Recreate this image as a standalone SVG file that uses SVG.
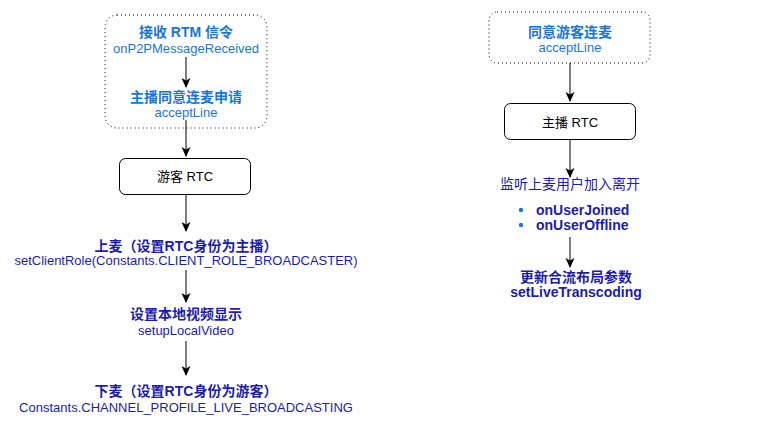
<svg xmlns="http://www.w3.org/2000/svg" width="779" height="438" viewBox="0 0 779 438">
<defs>
<marker id="ah" markerWidth="10" markerHeight="10" refX="9" refY="5" orient="auto" markerUnits="userSpaceOnUse">
<path d="M0,0.5 L10,5 L0,9.5 L2.5,5 Z" fill="#000"/>
</marker>
<style>
text{font-family:"Liberation Sans","Noto Sans CJK SC",sans-serif;text-anchor:middle}
.lb{fill:#1A75D8}
.db{fill:#1C1CAA}
.b{font-weight:bold;font-size:14px}
.r{font-size:13px}
.blk{fill:#000;font-size:13px}
.dot{fill:#fff;stroke:#000;stroke-width:1;stroke-dasharray:1 3}
.box{fill:#fff;stroke:#000;stroke-width:1}
.c{fill:none;stroke:#000;stroke-width:1;marker-end:url(#ah)}
</style>
</defs>
<rect width="779" height="438" fill="#fff"/>
<g id="left-group">
<rect class="dot" x="105" y="15" width="162" height="113" rx="12"/>
</g>
<g id="right-group">
<rect class="dot" x="489" y="12" width="161" height="51" rx="8"/>
</g>
<g id="connectors">
<path class="c" d="M186,57 V87"/>
<path class="c" d="M186,120 V156"/>
<path class="c" d="M186,195 V231"/>
<path class="c" d="M186,270 V302"/>
<path class="c" d="M186,341 V375"/>
<path class="c" d="M570,63 V101"/>
<path class="c" d="M570,140 V177"/>
<path class="c" d="M570,237 V267"/>
</g>
<g id="n-rtm">
<text class="lb b" x="186" y="37">接收 RTM 信令</text>
<text class="lb r" x="186" y="53">onP2PMessageReceived</text>
</g>
<g id="n-agree">
<text class="lb b" x="186" y="102">主播同意连麦申请</text>
<text class="lb r" x="186" y="117">acceptLine</text>
</g>
<g id="n-guest-rtc">
<rect class="box" x="119.5" y="158.5" width="131" height="36" rx="6"/>
<text class="blk" x="185" y="181">游客 RTC</text>
</g>
<g id="n-up">
<text class="db b" x="186" y="251">上麦（设置RTC身份为主播）</text>
<text class="db r" x="186" y="265">setClientRole(Constants.CLIENT_ROLE_BROADCASTER)</text>
</g>
<g id="n-local">
<text class="db b" x="186" y="319">设置本地视频显示</text>
<text class="db r" x="186" y="335">setupLocalVideo</text>
</g>
<g id="n-down">
<text class="db b" x="186" y="396">下麦（设置RTC身份为游客）</text>
<text class="db r" x="186" y="412">Constants.CHANNEL_PROFILE_LIVE_BROADCASTING</text>
</g>
<g id="n-accept">
<text class="lb b" x="570" y="37">同意游客连麦</text>
<text class="lb r" x="570" y="52">acceptLine</text>
</g>
<g id="n-host-rtc">
<rect class="box" x="504.5" y="103.5" width="131" height="36" rx="6"/>
<text class="blk" x="570" y="127">主播 RTC</text>
</g>
<g id="n-listen">
<text class="db" x="570" y="189" style="font-size:14px">监听上麦用户加入离开</text>
<circle cx="521" cy="210" r="2.2" fill="#1A75D8"/>
<circle cx="521" cy="225" r="2.2" fill="#1A75D8"/>
<text class="db b" x="536" y="215" style="text-anchor:start">onUserJoined</text>
<text class="db b" x="536" y="230" style="text-anchor:start">onUserOffline</text>
</g>
<g id="n-transcoding">
<text class="db b" x="576" y="282">更新合流布局参数</text>
<text class="db b" x="576" y="297">setLiveTranscoding</text>
</g>
</svg>
